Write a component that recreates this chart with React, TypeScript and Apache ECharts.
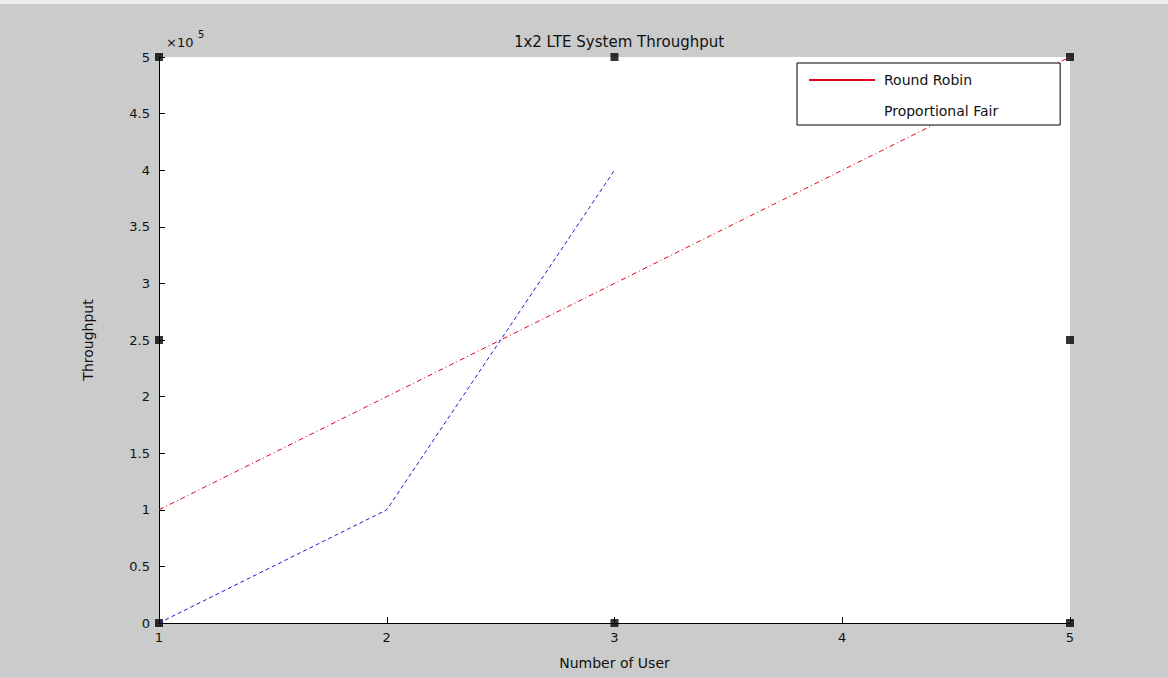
import React, { useEffect, useRef } from "react";
import * as echarts from "echarts";

const users = [1, 2, 3, 4, 5];
const roundRobin = [100000, 200000, 300000, 400000, 500000];
const propUsers = [1, 2, 3];
const propFair = [0, 100000, 400000];
const handles: [number, number][] = [
  [1, 500000], [3, 500000], [5, 500000], [5, 250000],
  [5, 0], [3, 0], [1, 0], [1, 250000],
];

export default function App() {
  const ref = useRef<HTMLDivElement>(null);
  useEffect(() => {
    const chart = echarts.init(ref.current!, null, { renderer: "svg" });
    const font = "DejaVu Sans, Verdana, sans-serif";
    chart.setOption({
      animation: false,
      backgroundColor: "#cbcbcb",
      title: {
        text: "1x2 LTE System Throughput",
        left: 614,
        top: 29,
        textAlign: "center",
        textStyle: { fontSize: 15, fontWeight: "normal", color: "#111", fontFamily: font },
      },
      graphic: [
        { type: "rect", left: 0, top: 0, shape: { width: 1168, height: 4 }, style: { fill: "#eeeeee" } },
        {
          type: "text", left: 166, top: 36,
          style: { text: "×10", fontSize: 13, fill: "#111", fontFamily: font },
        },
        {
          type: "text", left: 198, top: 29,
          style: { text: "5", fontSize: 10, fill: "#111", fontFamily: font },
        },
      ],
      legend: {
        orient: "vertical",
        left: 797,
        top: 63,
        padding: [10, 62, 7, 12],
        itemGap: 17,
        itemWidth: 66,
        itemHeight: 2,
        icon: "rect",
        backgroundColor: "#ffffff",
        borderColor: "#000",
        borderWidth: 1,
        borderRadius: 0,
        textStyle: { fontSize: 14, color: "#111", fontFamily: font, padding: [0, 0, 0, 4] },
        data: [
          { name: "Round Robin", itemStyle: { color: "#e0001a" } },
          { name: "Proportional Fair", itemStyle: { opacity: 0 } },
        ],
      },
      grid: { left: 159, top: 57, width: 911, height: 566, backgroundColor: "#ffffff", show: true, borderWidth: 0 },
      xAxis: {
        type: "value",
        min: 1,
        max: 5,
        interval: 1,
        name: "Number of User",
        nameLocation: "middle",
        nameGap: 33,
        nameTextStyle: { fontSize: 14, color: "#111", fontFamily: font },
        axisLine: { show: true, lineStyle: { color: "#000", width: 1 } },
        axisTick: { show: true, inside: true, length: 6, lineStyle: { color: "#000" } },
        axisLabel: { fontSize: 13, color: "#111", fontFamily: font, margin: 8 },
        splitLine: { show: false },
      },
      yAxis: {
        type: "value",
        min: 0,
        max: 500000,
        interval: 50000,
        name: "Throughput",
        nameLocation: "middle",
        nameGap: 64,
        nameTextStyle: { fontSize: 14, color: "#111", fontFamily: font },
        axisLine: { show: true, onZero: false, lineStyle: { color: "#000", width: 1 } },
        axisTick: { show: true, inside: true, length: 6, lineStyle: { color: "#000" } },
        axisLabel: {
          fontSize: 13, color: "#111", fontFamily: font, margin: 9,
          formatter: (v: number) => String(v / 100000),
        },
        splitLine: { show: false },
      },
      series: [
        {
          name: "Round Robin",
          type: "line",
          data: users.map((u, i) => [u, roundRobin[i]]),
          symbol: "none",
          lineStyle: { color: "#e0001a", width: 1, type: [5, 3, 1, 3] },
          itemStyle: { color: "#e0001a" },
        },
        {
          name: "Proportional Fair",
          type: "line",
          data: propUsers.map((u, i) => [u, propFair[i]]),
          symbol: "none",
          lineStyle: { color: "#1a1ad0", width: 1, type: [4, 3] },
          itemStyle: { color: "#1a1ad0" },
        },
        {
          name: "handles",
          type: "scatter",
          data: handles,
          symbol: "rect",
          symbolSize: 8,
          clip: false,
          silent: true,
          itemStyle: { color: "#000" },
        },
      ],
    });
    return () => chart.dispose();
  }, []);
  return (
    <div
      ref={ref}
      style={{ position: "fixed", left: 0, top: 0, width: 1168, height: 678 }}
    />
  );
}
